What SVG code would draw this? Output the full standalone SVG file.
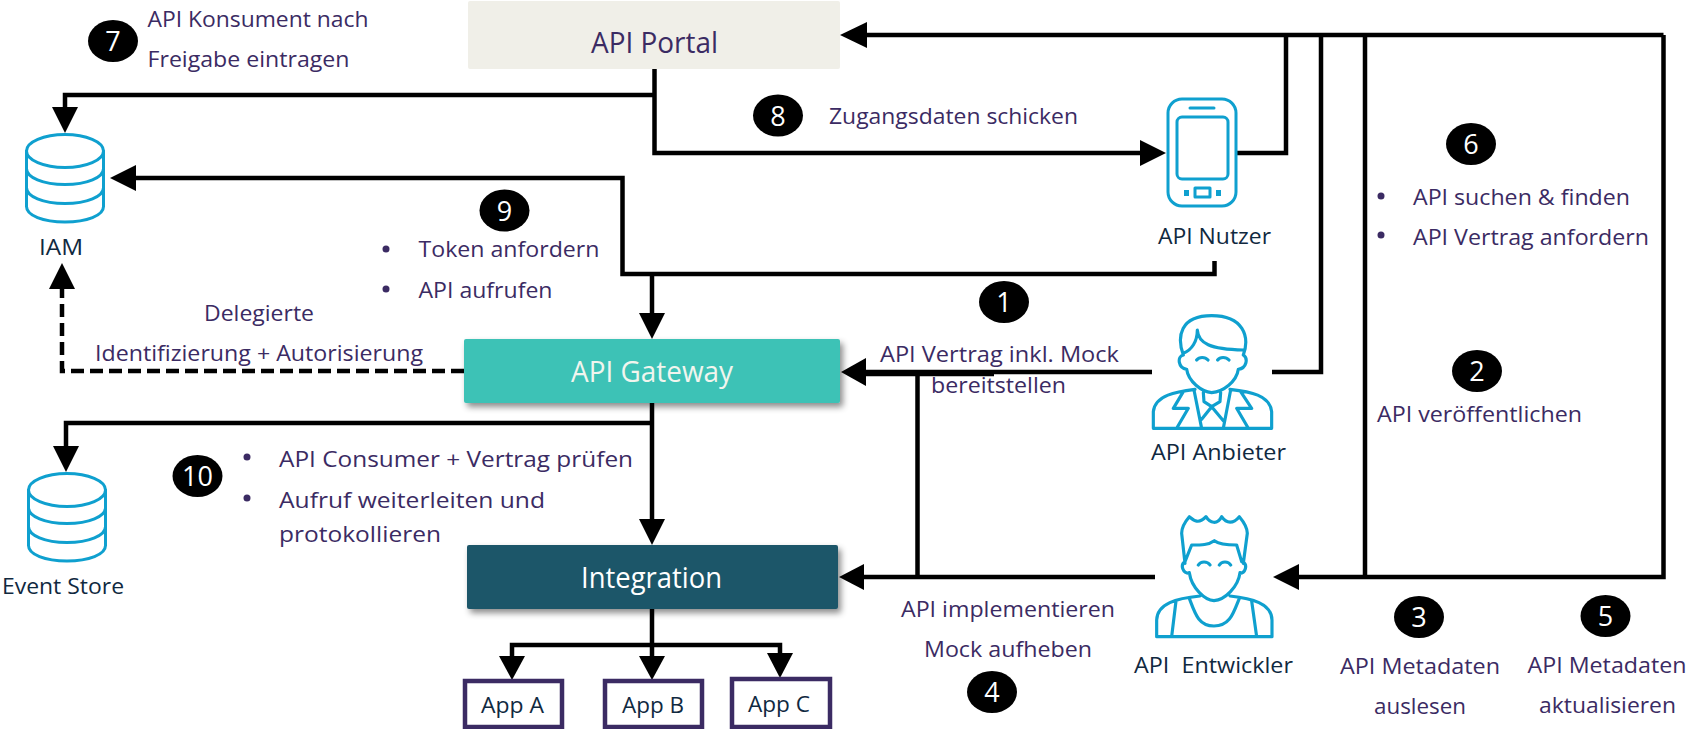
<svg xmlns="http://www.w3.org/2000/svg" xmlns:xlink="http://www.w3.org/1999/xlink" width="1690" height="729" viewBox="0 0 1690 729">
<style>
text{font-family:"Open Sans","Noto Sans","Liberation Sans",sans-serif;font-size:22.5px}
.p{fill:#3b2b63}.n{fill:#10293f}.w{fill:#fff}
.big{font-size:29px}
.b{fill:#000}.bt{fill:#fff;text-anchor:middle;font-size:27px}
.c{fill:none;stroke:#000;stroke-width:4.500}
.d{fill:none;stroke:#000;stroke-width:4.500;stroke-dasharray:13 6}
.a{fill:#000;stroke:none}
.i{fill:none;stroke:#0fa0cf;stroke-width:3;stroke-linejoin:round;stroke-linecap:round}
.ui{fill:none;stroke:#0fa0cf;stroke-width:9.500;stroke-linejoin:round;stroke-linecap:round}
.app{fill:#fff;stroke:#3b2b63;stroke-width:4.500}
</style>
<defs>
<filter id="sh" x="-5%" y="-20%" width="112%" height="150%"><feDropShadow dx="3" dy="4" stdDeviation="3" flood-color="#000" flood-opacity=".45"/></filter>
<g id="cyl"><ellipse cx="40" cy="16.500" rx="38.500" ry="16.500" class="i"/><path class="i" d="M1.500 16.500V72C1.500 81 18 87.500 40 87.500S78.500 81 78.500 72V16.500M1.500 34C1.500 43 18 50 40 50S78.500 43 78.500 34M1.500 53C1.500 62 18 69 40 69S78.500 62 78.500 53"/></g>
</defs>

<g id="connectors">
<path class="c" d="M1663.500 35H862M1663.500 35V577H1295M1365 35V577M1321 35V372H1272M1286 35V153H1237"/>
<path class="a" d="M840 35L867 22V48Z"/>
<path class="a" d="M1273 577L1299 564V590Z"/>
<path class="c" d="M654.500 69V153H1142"/>
<path class="a" d="M1166 153L1140 140V166Z"/>
<path class="c" d="M654.500 95H65V110"/>
<path class="a" d="M65 133L52 107H78Z"/>
<path class="c" d="M1214.500 261V274H622.500V178H134"/>
<path class="a" d="M110 178L136 165V191Z"/>
<path class="c" d="M652 274V315"/>
<path class="a" d="M652 339L639 313H665Z"/>
<path class="d" d="M464 371H62V288"/>
<path class="a" d="M62 263L49 289H75Z"/>
<path class="c" d="M1152 372H864M864 374H994"/>
<path class="a" d="M841 372L866 358V386Z"/>
<path class="c" d="M917.500 374V577M1155 577H862"/>
<path class="a" d="M839 577L864 564V590Z"/>
<path class="c" d="M652 403V521M652 423H66V448"/>
<path class="a" d="M652 545L639 519H665Z"/>
<path class="a" d="M66 472L53 446H79Z"/>
<path class="c" d="M652 609V658M512 658V645H780V655"/>
<path class="a" d="M512 680L499 656H525Z"/>
<path class="a" d="M652 680L639 656H665Z"/>
<path class="a" d="M780 678L767 653H793Z"/>
</g>

<g id="api-portal"><rect x="468" y="1" width="372" height="68" rx="2" fill="#f0efe8"/><text class="p big" x="591" y="53" textLength="127" lengthAdjust="spacingAndGlyphs">API Portal</text></g>
<g id="api-gateway"><rect x="464" y="339" width="376" height="64" rx="2" fill="#3dc2b6" filter="url(#sh)"/><text class="big" fill="#f1f5ee" x="571" y="382" textLength="162" lengthAdjust="spacingAndGlyphs">API Gateway</text></g>
<g id="integration"><rect x="467" y="545" width="371" height="64" rx="2" fill="#1d5669" filter="url(#sh)"/><text class="big w" x="581" y="588" textLength="141" lengthAdjust="spacingAndGlyphs">Integration</text></g>

<g id="app-a"><rect class="app" x="465" y="681" width="97" height="46"/><text class="n" x="481" y="713" textLength="63" lengthAdjust="spacingAndGlyphs">App A</text></g>
<g id="app-b"><rect class="app" x="605" y="681" width="97" height="46"/><text class="n" x="622" y="713" textLength="62" lengthAdjust="spacingAndGlyphs">App B</text></g>
<g id="app-c"><rect class="app" x="732" y="679" width="98" height="48"/><text class="n" x="748" y="712" textLength="62" lengthAdjust="spacingAndGlyphs">App C</text></g>

<g id="iam"><use xlink:href="#cyl" href="#cyl" transform="translate(25 134.500)"/><text class="n" x="39" y="255" textLength="44" lengthAdjust="spacingAndGlyphs">IAM</text></g>
<g id="event-store"><use xlink:href="#cyl" href="#cyl" transform="translate(27 473.500)"/><text class="n" x="2" y="594" textLength="122" lengthAdjust="spacingAndGlyphs">Event Store</text></g>

<g id="api-nutzer">
<rect class="i" x="1168" y="99" width="68" height="107" rx="14"/>
<rect class="i" x="1177" y="117" width="51" height="62" rx="5"/>
<path class="i" d="M1190 108H1214"/>
<rect class="i" x="1195" y="188" width="15" height="9"/>
<path d="M1184 190h5v6h-5zM1216 190h5v6h-5z" fill="#0fa0cf"/>
<text class="n" x="1158" y="244" textLength="113" lengthAdjust="spacingAndGlyphs">API Nutzer</text>
</g>

<g id="api-anbieter">
<g transform="translate(1120 300) scale(.3333)">
<path class="ui" d="M190 165C170 110 180 47 275 47C370 47 390 110 370 165M190 160C215 150 232 125 232 90C235 130 270 148 370 150M190 165C170 170 175 205 200 208M370 165C385 175 380 205 355 208M200 208C205 245 245 275 275 278C310 275 350 245 355 208M230 180C238 170 255 170 264 180M293 180C300 170 318 170 327 180M100 385V335C105 285 170 275 225 268M330 268C390 275 450 285 455 335V385M100 385H455M190 275L160 325H205L170 385M362 275L395 325H350L385 385M222 270L245 385M332 270L310 385M250 278L252 305L275 320L300 305L302 278M275 320L245 358M275 320L310 362"/>
</g>
<text class="n" x="1151" y="460" textLength="135" lengthAdjust="spacingAndGlyphs">API Anbieter</text>
</g>

<g id="api-entwickler">
<g transform="translate(1130 500) scale(.3333)">
<path class="ui" d="M165 190L155 100C155 85 165 65 178 50C190 60 205 75 228 50C240 70 262 75 275 50C290 72 310 72 328 50C345 70 352 85 352 100L340 190M165 185L185 135C215 135 235 135 253 122C270 135 300 135 320 135L335 185M165 185C150 195 158 220 178 220M338 185C355 195 345 220 330 220M178 218C185 265 225 300 252 302C285 300 325 260 330 218M205 195C212 183 232 183 240 195M268 195C275 183 295 183 302 195M80 410V360C82 310 140 295 210 288M300 288C365 295 425 310 426 360V410M80 410H426M138 303L125 410M365 303L380 410M178 295C195 340 205 378 252 378C300 378 310 340 328 295"/>
</g>
<text class="n" x="1134" y="673" textLength="159" lengthAdjust="spacingAndGlyphs" xml:space="preserve">API  Entwickler</text>
</g>

<g id="step-1"><ellipse class="b" cx="1004" cy="302" rx="25" ry="21"/><text class="bt" x="1004" y="312">1</text></g>
<g id="step-2"><ellipse class="b" cx="1477" cy="371" rx="25" ry="21"/><text class="bt" x="1477" y="381">2</text></g>
<g id="step-3"><ellipse class="b" cx="1419" cy="617" rx="25" ry="21"/><text class="bt" x="1419" y="627">3</text></g>
<g id="step-4"><ellipse class="b" cx="992" cy="692" rx="25" ry="21"/><text class="bt" x="992" y="702">4</text></g>
<g id="step-5"><ellipse class="b" cx="1605.500" cy="616" rx="25" ry="21"/><text class="bt" x="1605.500" y="626">5</text></g>
<g id="step-6"><ellipse class="b" cx="1471" cy="144" rx="25" ry="21"/><text class="bt" x="1471" y="154">6</text></g>
<g id="step-7"><ellipse class="b" cx="113" cy="41" rx="25" ry="21"/><text class="bt" x="113" y="51">7</text></g>
<g id="step-8"><ellipse class="b" cx="778" cy="115.500" rx="25" ry="21"/><text class="bt" x="778" y="125.500">8</text></g>
<g id="step-9"><ellipse class="b" cx="504.500" cy="210.500" rx="25" ry="21"/><text class="bt" x="504.500" y="220.500">9</text></g>
<g id="step-10"><ellipse class="b" cx="197.500" cy="476" rx="25" ry="21"/><text class="bt" x="197.500" y="486">10</text></g>

<g id="labels">
<text class="p" x="147.500" y="27" textLength="221" lengthAdjust="spacingAndGlyphs">API Konsument nach</text>
<text class="p" x="147.500" y="67" textLength="202" lengthAdjust="spacingAndGlyphs">Freigabe eintragen</text>
<text class="p" x="829" y="124" textLength="249" lengthAdjust="spacingAndGlyphs">Zugangsdaten schicken</text>
<circle class="p" cx="386" cy="249" r="3.500"/><text class="p" x="418.500" y="257" textLength="181" lengthAdjust="spacingAndGlyphs">Token anfordern</text>
<circle class="p" cx="386" cy="289" r="3.500"/><text class="p" x="418.500" y="298" textLength="134" lengthAdjust="spacingAndGlyphs">API aufrufen</text>
<text class="p" x="204" y="321" textLength="110" lengthAdjust="spacingAndGlyphs">Delegierte</text>
<text class="p" x="95" y="361" textLength="328" lengthAdjust="spacingAndGlyphs">Identifizierung + Autorisierung</text>
<text class="p" x="880" y="362" textLength="239" lengthAdjust="spacingAndGlyphs">API Vertrag inkl. Mock</text>
<text class="p" x="931" y="393" textLength="135" lengthAdjust="spacingAndGlyphs">bereitstellen</text>
<circle class="p" cx="1381" cy="196" r="3.500"/><text class="p" x="1413" y="205" textLength="217" lengthAdjust="spacingAndGlyphs">API suchen &amp; finden</text>
<circle class="p" cx="1381" cy="235" r="3.500"/><text class="p" x="1413" y="245" textLength="236" lengthAdjust="spacingAndGlyphs">API Vertrag anfordern</text>
<text class="p" x="1377" y="422" textLength="205" lengthAdjust="spacingAndGlyphs">API veröffentlichen</text>
<circle class="p" cx="247" cy="457" r="3.500"/><text class="p" x="279" y="467" textLength="354" lengthAdjust="spacingAndGlyphs">API Consumer + Vertrag prüfen</text>
<circle class="p" cx="247" cy="498" r="3.500"/><text class="p" x="279" y="508" textLength="266" lengthAdjust="spacingAndGlyphs">Aufruf weiterleiten und</text>
<text class="p" x="279" y="542" textLength="162" lengthAdjust="spacingAndGlyphs">protokollieren</text>
<text class="p" x="901" y="617" textLength="214" lengthAdjust="spacingAndGlyphs">API implementieren</text>
<text class="p" x="924" y="657" textLength="168" lengthAdjust="spacingAndGlyphs">Mock aufheben</text>
<text class="p" x="1340" y="674" textLength="160" lengthAdjust="spacingAndGlyphs">API Metadaten</text>
<text class="p" x="1374" y="714" textLength="92" lengthAdjust="spacingAndGlyphs">auslesen</text>
<text class="p" x="1527.500" y="673" textLength="159" lengthAdjust="spacingAndGlyphs">API Metadaten</text>
<text class="p" x="1539" y="713" textLength="137" lengthAdjust="spacingAndGlyphs">aktualisieren</text>
</g>
</svg>
